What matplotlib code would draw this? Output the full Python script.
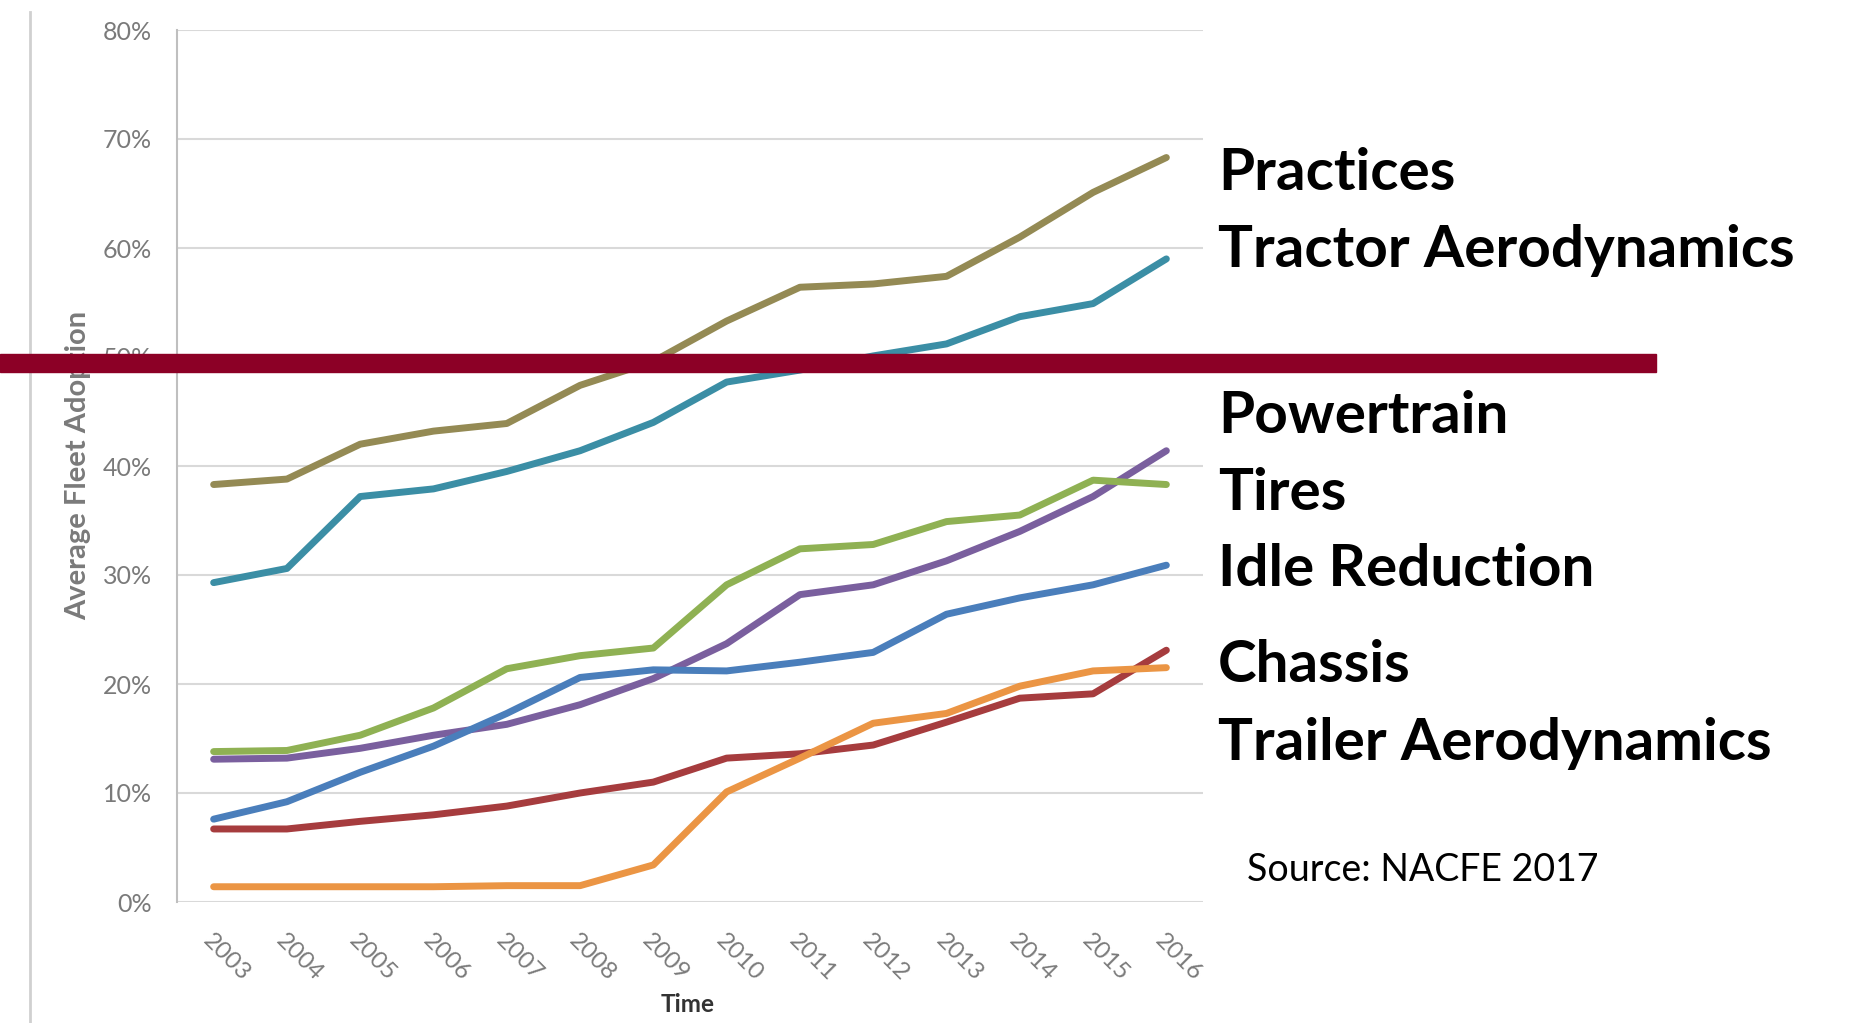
import matplotlib
matplotlib.use("Agg")
import matplotlib.pyplot as plt
from matplotlib.patches import Rectangle
from matplotlib.lines import Line2D
from matplotlib.ticker import PercentFormatter

plt.rcParams["font.family"] = ["Lato", "DejaVu Sans"]

years = ["2003", "2004", "2005", "2006", "2007", "2008", "2009",
         "2010", "2011", "2012", "2013", "2014", "2015", "2016"]

practices = [38.3, 38.8, 42.0, 43.2, 43.9, 47.4, 49.6, 53.3, 56.4, 56.7, 57.4, 61.0, 65.1, 68.3]
tractor_aero = [29.3, 30.6, 37.2, 37.9, 39.5, 41.4, 44.0, 47.7, 48.8, 50.1, 51.2, 53.7, 54.9, 59.0]
powertrain = [13.1, 13.2, 14.1, 15.3, 16.3, 18.1, 20.5, 23.7, 28.2, 29.1, 31.3, 34.0, 37.2, 41.4]
tires = [13.8, 13.9, 15.3, 17.8, 21.4, 22.6, 23.3, 29.1, 32.4, 32.8, 34.9, 35.5, 38.7, 38.3]
idle_reduction = [7.6, 9.2, 11.9, 14.3, 17.3, 20.6, 21.3, 21.2, 22.0, 22.9, 26.4, 27.9, 29.1, 30.9]
chassis = [6.7, 6.7, 7.4, 8.0, 8.8, 10.0, 11.0, 13.2, 13.6, 14.4, 16.5, 18.7, 19.1, 23.1]
trailer_aero = [1.4, 1.4, 1.4, 1.4, 1.5, 1.5, 3.4, 10.1, 13.2, 16.4, 17.3, 19.8, 21.2, 21.5]

series = [
    ("Practices", practices, "#948a54"),
    ("Tractor Aerodynamics", tractor_aero, "#3b8ea5"),
    ("Powertrain", powertrain, "#7a5f9e"),
    ("Tires", tires, "#8fb153"),
    ("Idle Reduction", idle_reduction, "#4a7ebb"),
    ("Chassis", chassis, "#a63c3e"),
    ("Trailer Aerodynamics", trailer_aero, "#eb9544"),
]

# right-hand labels, baseline in pixels from top
side_labels = [
    ("Practices", 190), ("Tractor Aerodynamics", 267),
    ("Powertrain", 433), ("Tires", 510), ("Idle Reduction", 586),
    ("Chassis", 682), ("Trailer Aerodynamics", 760),
]

W, H = 1854, 1023
dpi = 100
fig = plt.figure(figsize=(W / dpi, H / dpi), dpi=dpi)
fig.patch.set_facecolor("white")

ax = fig.add_axes([177 / W, 1 - 902 / H, (1203 - 177) / W, (902 - 30) / H])
x = list(range(len(years)))
for name, vals, col in series:
    ax.plot(x, vals, color=col, lw=5, solid_capstyle="round", zorder=3)

ax.set_xlim(-0.5, len(years) - 0.5)
ax.set_ylim(0, 80)
ax.set_yticks(range(0, 81, 10))
ax.yaxis.set_major_formatter(PercentFormatter(decimals=0))
ax.grid(axis="y", color="#d9d9d9", lw=1.5)
ax.set_axisbelow(True)
for s in ["top", "right", "bottom"]:
    ax.spines[s].set_visible(False)
ax.spines["left"].set_color("#bfbfbf")
ax.spines["left"].set_linewidth(1.5)
ax.tick_params(axis="y", length=0, pad=18, labelsize=18, labelcolor="#7a7a7a")
ax.tick_params(axis="x", length=0, pad=20)
ax.set_xticks(x)
ax.set_xticklabels(years, rotation=-45, ha="left", va="top",
                   rotation_mode="anchor", fontsize=17.5, color="#7a7a7a")

fig.text(78 / W, 1 - 465 / H, "Average Fleet Adoption", rotation=90,
         ha="center", va="center", fontsize=21, fontweight="bold", color="#7a7a7a")
fig.text(688 / W, 1 - 1005 / H, "Time", ha="center", va="center",
         fontsize=17.5, fontweight="bold", color="#333333")

for txt, base in side_labels:
    fig.text(1218 / W, 1 - base / H, txt, ha="left", va="baseline",
             fontsize=42, fontweight="bold", color="black")
fig.text(1247 / W, 1 - 881 / H, "Source: NACFE 2017", ha="left", va="baseline",
         fontsize=27, color="black")

# thin grey rule at the left edge and the crimson divider bar
fig.add_artist(Line2D([30 / W, 30 / W], [0, 1 - 12 / H], color="#d0d0d0", lw=2))
fig.add_artist(Rectangle((0, 1 - 372 / H), 1656 / W, 18 / H,
                         transform=fig.transFigure, color="#8c0026", zorder=5))

fig.savefig("out.png", dpi=dpi)
